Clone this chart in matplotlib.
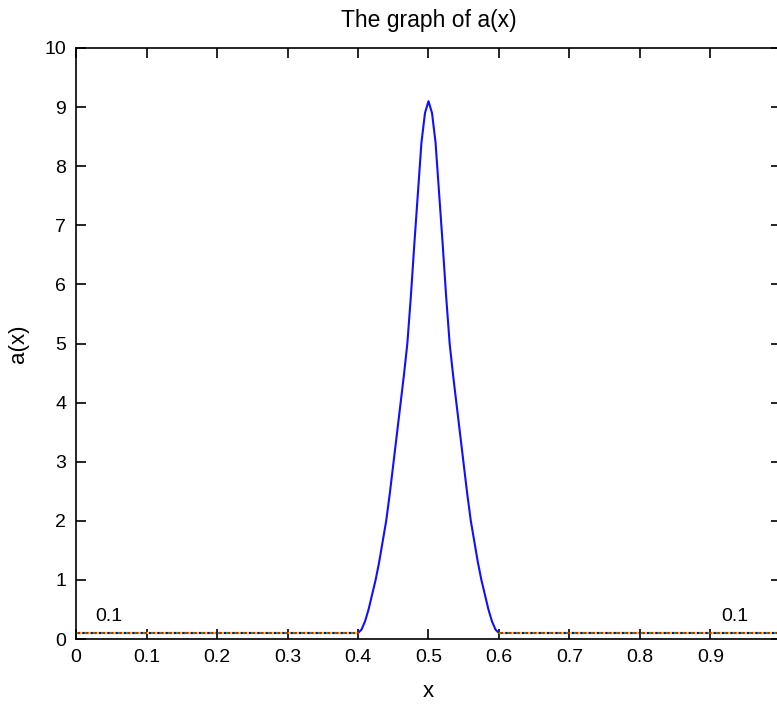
import matplotlib
matplotlib.use("Agg")
import matplotlib.pyplot as plt
import numpy as np

plt.rcParams['font.family'] = ['Liberation Sans', 'DejaVu Sans']

# bump of a(x) on [0.4, 0.6]
bump_x = [0.400, 0.405, 0.410, 0.415, 0.420, 0.425, 0.430, 0.435, 0.440, 0.445,
          0.450, 0.455, 0.460, 0.465, 0.470, 0.475, 0.480, 0.485, 0.490, 0.495,
          0.500, 0.505, 0.510, 0.515, 0.520, 0.525, 0.530, 0.535, 0.540, 0.545,
          0.550, 0.555, 0.560, 0.565, 0.570, 0.575, 0.580, 0.585, 0.590, 0.595, 0.600]
bump_y = [0.10, 0.16, 0.30, 0.50, 0.75, 1.00, 1.30, 1.65, 2.00, 2.45,
          2.95, 3.45, 3.95, 4.45, 5.00, 5.80, 6.70, 7.55, 8.40, 8.90,
          9.10, 8.90, 8.40, 7.55, 6.70, 5.80, 5.00, 4.45, 3.95, 3.45,
          2.95, 2.45, 2.00, 1.65, 1.30, 1.00, 0.75, 0.50, 0.30, 0.16, 0.10]

# flat parts where a(x) = 0.1
flat_left = [0.0, 0.4]
flat_right = [0.6, 1.0]
flat_value = 0.1

xticks = [0, 0.1, 0.2, 0.3, 0.4, 0.5, 0.6, 0.7, 0.8, 0.9, 1]
xtick_labels = ['0', '0.1', '0.2', '0.3', '0.4', '0.5', '0.6', '0.7', '0.8', '0.9', '1']
yticks = list(range(0, 11))

fig = plt.figure(figsize=(7.77, 7.05), dpi=100)
ax = fig.add_axes([76 / 777, 66 / 705, 705 / 777, 591 / 705])

ax.plot(bump_x, bump_y, color='#1010ff', lw=1.5)

# the flat parts are several overlapping coloured lines
for seg in (flat_left, flat_right):
    yy = [flat_value, flat_value]
    ax.plot(seg, yy, color='#ff0000', lw=1.5)
    ax.plot(seg, yy, color='#00c000', lw=1.5, linestyle=(0, (1.0, 3.0)))
    ax.plot(seg, yy, color='#0000ff', lw=1.5, linestyle=(1.0, (1.0, 3.0)))
    ax.plot(seg, yy, color='#f0d000', lw=1.5, linestyle=(2.0, (1.0, 3.0)))

ax.text(0.027, 0.30, '0.1', fontsize=14)
ax.text(0.915, 0.30, '0.1', fontsize=14)

ax.set_xlim(0, 1)
ax.set_ylim(0, 10)
ax.set_xticks(xticks)
ax.set_xticklabels(xtick_labels)
ax.set_yticks(yticks)
ax.tick_params(direction='in', length=7, width=1.2, top=True, right=True,
               labelsize=14, pad=7)
for s in ax.spines.values():
    s.set_linewidth(1.2)

ax.set_title('The graph of a(x)', fontsize=16.5, pad=15)
ax.set_xlabel('x', fontsize=16, labelpad=11)
ax.set_ylabel('a(x)', fontsize=16, labelpad=11)

fig.savefig('out.png', dpi=100)
